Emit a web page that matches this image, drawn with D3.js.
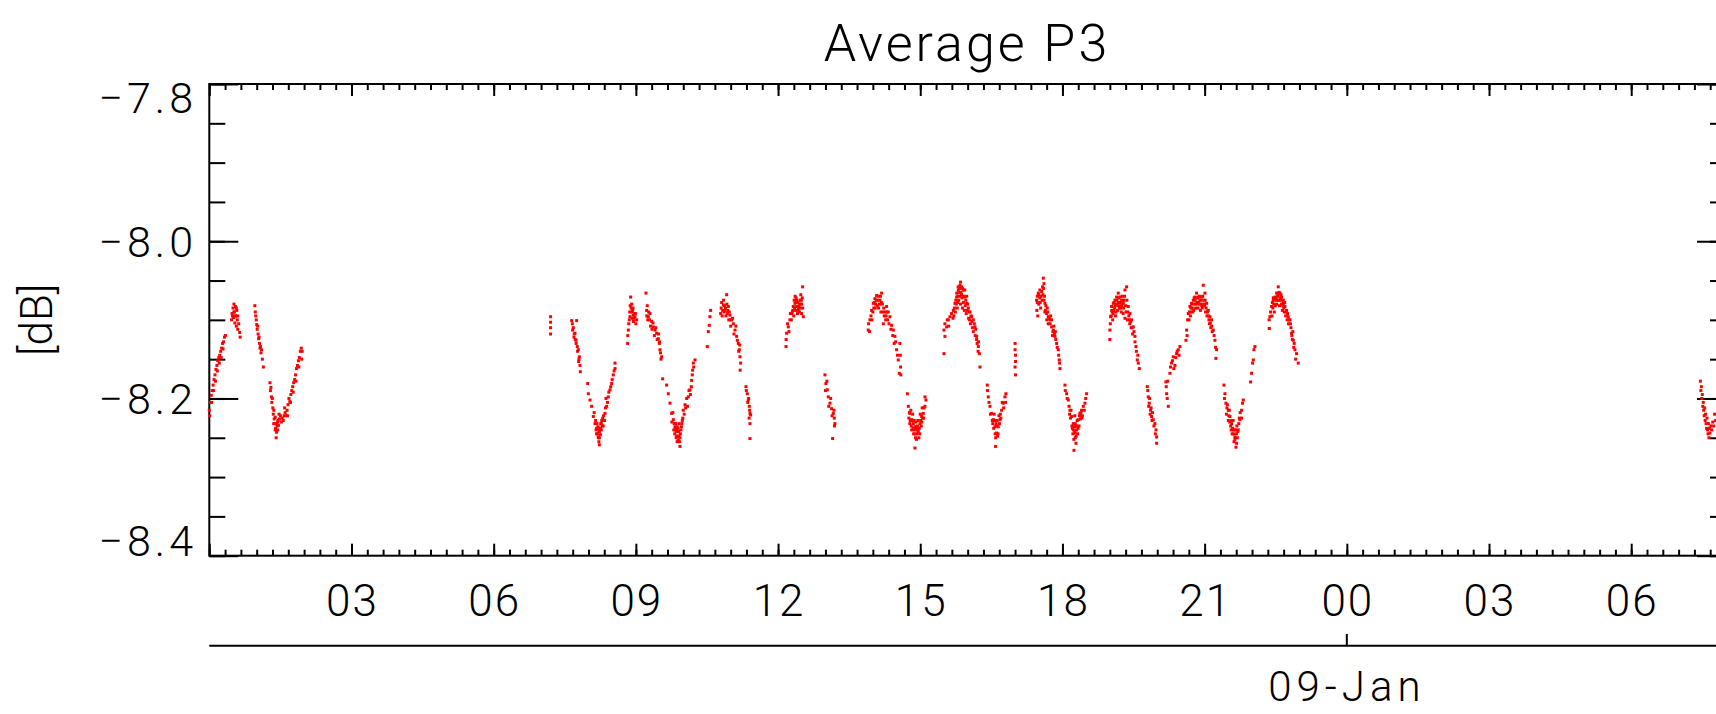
<!DOCTYPE html>
<html>
<head>
<meta charset="utf-8">
<script src="https://cdn.jsdelivr.net/npm/d3@7"></script>
<style>
  html, body { margin: 0; padding: 0; background: #fff; }
  svg { display: block; }
  text { font-family: Roboto, "DejaVu Sans", sans-serif; font-weight: 300; fill: #000; }
</style>
</head>
<body>
<svg id="chart" width="1716" height="714"></svg>
<script>
// ---------- data (hours since 08-Jan 00:00, value in dB) ----------
const title = "Average P3";
const yLabel = "[dB]";
const dateLabel = "09-Jan";
const dateLabelHour = 24;
const xDomain = [0, 32];
const yDomain = [-8.4, -7.8];
const xTickHours = [3, 6, 9, 12, 15, 18, 21, 24, 27, 30];
const xTickLabels = ["03", "06", "09", "12", "15", "18", "21", "00", "03", "06"];
const yTickValues = [-7.8, -8.0, -8.2, -8.4];
const yTickLabels = ["\u22127.8", "\u22128.0", "\u22128.2", "\u22128.4"];

const segA = [[0.00,-8.215],[0.01,-8.222],[0.02,-8.205],[0.04,-8.196],[0.05,-8.205],[0.06,-8.19],[0.08,-8.183],[0.09,-8.19],[0.10,-8.176],[0.12,-8.17],[0.13,-8.178],[0.14,-8.163],[0.16,-8.158],[0.17,-8.165],[0.18,-8.152],[0.20,-8.148],[0.21,-8.155],[0.22,-8.145],[0.24,-8.14],[0.25,-8.148],[0.26,-8.136],[0.28,-8.13],[0.29,-8.137],[0.30,-8.128],[0.32,-8.122],[0.34,-8.12],
[0.47,-8.100],[0.48,-8.092],[0.49,-8.095],[0.50,-8.085],[0.51,-8.097],[0.52,-8.080],[0.52,-8.090],[0.53,-8.090],[0.54,-8.104],[0.55,-8.083],[0.55,-8.095],[0.56,-8.095],[0.57,-8.108],[0.57,-8.085],[0.58,-8.088],[0.59,-8.100],[0.60,-8.112],[0.60,-8.095],[0.62,-8.105],[0.64,-8.116],[0.65,-8.122],
[0.96,-8.082],[0.97,-8.090],[0.98,-8.095],[0.99,-8.100],[1.00,-8.106],[1.01,-8.112],[1.02,-8.108],[1.03,-8.118],[1.04,-8.124],[1.05,-8.122],[1.06,-8.130],[1.07,-8.136],[1.08,-8.134],[1.09,-8.142],[1.10,-8.138],[1.12,-8.150],[1.14,-8.160],
[1.28,-8.180],[1.29,-8.190],[1.30,-8.186],[1.31,-8.198],[1.32,-8.205],[1.33,-8.200],[1.34,-8.212],[1.35,-8.220],[1.36,-8.215],[1.36,-8.232],[1.37,-8.226],[1.38,-8.232],[1.39,-8.224],[1.39,-8.240],[1.40,-8.238],[1.41,-8.250],[1.42,-8.243],[1.42,-8.232],[1.43,-8.235],[1.44,-8.240],[1.44,-8.230],[1.45,-8.228],[1.46,-8.234],[1.47,-8.220],[1.48,-8.226],[1.50,-8.222],
[1.52,-8.230],[1.54,-8.225],[1.56,-8.228],[1.58,-8.222],[1.59,-8.212],[1.60,-8.218],[1.62,-8.222],[1.64,-8.215],[1.65,-8.222],[1.66,-8.208],[1.68,-8.200],[1.70,-8.204],[1.71,-8.205],[1.72,-8.195],[1.74,-8.190],[1.76,-8.185],[1.77,-8.192],[1.78,-8.180],[1.80,-8.176],[1.82,-8.170],[1.83,-8.178],[1.84,-8.162],[1.86,-8.158],[1.88,-8.152],[1.89,-8.160],[1.90,-8.148],[1.92,-8.140],[1.94,-8.136],[1.95,-8.150],[1.96,-8.140]];

const segB = [[7.20,-8.096],[7.20,-8.103],[7.20,-8.110],[7.20,-8.118]];

const segC = [[7.645,-8.101],[7.660,-8.105],[7.666,-8.113],[7.680,-8.110],[7.694,-8.122],[7.700,-8.118],[7.715,-8.117],[7.720,-8.125],[7.736,-8.126],[7.740,-8.130],[7.750,-8.101],[7.764,-8.134],[7.770,-8.140],[7.786,-8.138],[7.793,-8.153],[7.800,-8.150],[7.807,-8.147],[7.821,-8.158],[7.828,-8.166],
[7.983,-8.181],[7.997,-8.194],[8.032,-8.202],[8.067,-8.210],[8.102,-8.223],[8.120,-8.218],[8.137,-8.232],[8.150,-8.228],[8.160,-8.240],[8.170,-8.245],[8.172,-8.238],[8.180,-8.232],[8.190,-8.245],[8.190,-8.238],[8.200,-8.236],[8.207,-8.249],[8.210,-8.250],[8.220,-8.242],[8.220,-8.255],[8.229,-8.259],[8.230,-8.250],[8.230,-8.242],[8.240,-8.238],[8.250,-8.246],[8.250,-8.238],[8.260,-8.232],[8.270,-8.240],[8.270,-8.232],[8.280,-8.228],[8.290,-8.235],[8.300,-8.225],[8.310,-8.235],[8.320,-8.222],[8.340,-8.228],[8.348,-8.219],[8.360,-8.212],[8.370,-8.200],[8.383,-8.210],[8.400,-8.205],[8.418,-8.198],[8.430,-8.192],[8.454,-8.189],[8.470,-8.185],[8.489,-8.181],[8.500,-8.176],[8.524,-8.170],[8.540,-8.165],[8.559,-8.155],[8.560,-8.162],
[8.826,-8.130],[8.830,-8.120],[8.840,-8.113],[8.850,-8.105],[8.860,-8.100],[8.870,-8.090],[8.875,-8.096],[8.880,-8.082],[8.889,-8.071],[8.900,-8.085],[8.910,-8.080],[8.911,-8.090],[8.920,-8.098],[8.930,-8.088],[8.940,-8.085],[8.946,-8.094],[8.950,-8.102],[8.960,-8.098],[8.970,-8.092],[8.981,-8.096],[8.990,-8.092],[9.000,-8.105],[9.016,-8.100],
[9.213,-8.066],[9.227,-8.088],[9.230,-8.095],[9.240,-8.082],[9.250,-8.100],[9.262,-8.096],[9.270,-8.090],[9.290,-8.100],[9.297,-8.092],[9.310,-8.108],[9.333,-8.102],[9.340,-8.112],[9.360,-8.104],[9.368,-8.109],[9.390,-8.120],[9.403,-8.113],[9.420,-8.110],[9.438,-8.117],[9.450,-8.125],[9.473,-8.124],[9.480,-8.118],[9.494,-8.130],[9.500,-8.128],[9.508,-8.138],[9.520,-8.142],[9.530,-8.150],[9.544,-8.147],[9.565,-8.175],
[9.649,-8.183],[9.684,-8.194],[9.720,-8.206],[9.755,-8.219],[9.760,-8.230],[9.780,-8.218],[9.790,-8.227],[9.800,-8.240],[9.810,-8.232],[9.820,-8.245],[9.825,-8.236],[9.830,-8.240],[9.840,-8.232],[9.850,-8.250],[9.850,-8.238],[9.860,-8.242],[9.860,-8.248],[9.870,-8.236],[9.870,-8.255],[9.880,-8.248],[9.890,-8.238],[9.895,-8.253],[9.900,-8.242],[9.910,-8.232],[9.910,-8.248],[9.920,-8.255],[9.930,-8.261],[9.930,-8.250],[9.940,-8.245],[9.950,-8.240],[9.960,-8.236],[9.970,-8.232],[9.980,-8.228],[9.990,-8.225],[10.000,-8.215],[10.020,-8.220],[10.036,-8.208],[10.050,-8.212],[10.071,-8.200],[10.090,-8.210],[10.106,-8.198],[10.120,-8.190],[10.141,-8.189],[10.150,-8.195],[10.170,-8.185],[10.176,-8.177],[10.190,-8.170],[10.198,-8.164],[10.212,-8.155],[10.220,-8.160],[10.247,-8.151],
[10.507,-8.134],[10.528,-8.115],[10.549,-8.107],[10.563,-8.096],[10.577,-8.088],
[10.788,-8.092],[10.800,-8.085],[10.810,-8.078],[10.820,-8.095],[10.830,-8.088],[10.844,-8.081],[10.850,-8.075],[10.860,-8.090],[10.870,-8.082],[10.880,-8.088],[10.890,-8.085],[10.900,-8.095],[10.915,-8.068],[10.920,-8.080],[10.930,-8.092],[10.940,-8.088],[10.950,-8.083],[10.960,-8.100],[10.970,-8.090],[10.985,-8.094],[10.990,-8.100],[11.000,-8.108],[11.020,-8.100],[11.040,-8.098],[11.056,-8.105],[11.070,-8.118],[11.091,-8.113],[11.110,-8.108],[11.126,-8.121],[11.140,-8.126],[11.161,-8.130],[11.170,-8.140],[11.182,-8.138],[11.190,-8.132],[11.196,-8.147],[11.210,-8.155],[11.200,-8.164],
[11.323,-8.185],[11.330,-8.190],[11.351,-8.194],[11.360,-8.205],[11.372,-8.202],[11.380,-8.200],[11.393,-8.210],[11.400,-8.215],[11.390,-8.225],[11.407,-8.219],[11.421,-8.221],[11.407,-8.232],[11.407,-8.251]];

const segD = [[12.167,-8.134],[12.170,-8.125],[12.181,-8.117],[12.200,-8.105],[12.216,-8.109],[12.230,-8.115],[12.251,-8.100],[12.260,-8.092],[12.280,-8.100],[12.286,-8.092],[12.300,-8.090],[12.310,-8.088],[12.321,-8.083],[12.330,-8.095],[12.340,-8.075],[12.350,-8.085],[12.356,-8.079],[12.360,-8.070],[12.370,-8.088],[12.380,-8.072],[12.390,-8.075],[12.392,-8.083],[12.400,-8.078],[12.410,-8.092],[12.420,-8.078],[12.427,-8.088],[12.430,-8.085],[12.440,-8.082],[12.450,-8.090],[12.460,-8.080],[12.462,-8.075],[12.470,-8.085],[12.480,-8.068],[12.490,-8.075],[12.497,-8.092],[12.500,-8.080],[12.510,-8.072],[12.518,-8.058],[12.520,-8.085],[12.532,-8.096],
[12.989,-8.170],[13.000,-8.190],[13.010,-8.181],[13.030,-8.178],[13.038,-8.189],[13.060,-8.198],[13.070,-8.210],[13.095,-8.206],[13.110,-8.200],[13.130,-8.213],[13.140,-8.222],[13.151,-8.251],[13.165,-8.219],[13.180,-8.215],[13.186,-8.225],[13.190,-8.235],[13.200,-8.232],
[13.903,-8.113],[13.910,-8.105],[13.930,-8.115],[13.939,-8.100],[13.960,-8.095],[13.974,-8.088],[13.980,-8.100],[14.000,-8.090],[14.009,-8.079],[14.020,-8.085],[14.030,-8.078],[14.044,-8.073],[14.050,-8.085],[14.060,-8.080],[14.070,-8.075],[14.079,-8.069],[14.090,-8.082],[14.100,-8.075],[14.110,-8.070],[14.120,-8.085],[14.140,-8.080],[14.150,-8.075],[14.160,-8.070],[14.170,-8.090],[14.180,-8.078],[14.185,-8.066],[14.200,-8.080],[14.210,-8.090],[14.220,-8.105],[14.230,-8.085],[14.240,-8.095],[14.260,-8.090],[14.270,-8.100],[14.280,-8.095],[14.290,-8.083],[14.300,-8.090],[14.310,-8.100],[14.325,-8.090],[14.340,-8.105],[14.360,-8.096],[14.380,-8.112],[14.396,-8.107],[14.420,-8.120],[14.431,-8.113],[14.450,-8.130],[14.466,-8.121],[14.480,-8.128],[14.501,-8.138],[14.520,-8.145],[14.536,-8.151],[14.557,-8.168],[14.570,-8.130],[14.580,-8.145],[14.585,-8.160],[14.590,-8.170],
[14.727,-8.194],[14.748,-8.210],[14.760,-8.225],[14.770,-8.218],[14.780,-8.232],[14.783,-8.219],[14.790,-8.228],[14.800,-8.215],[14.810,-8.235],[14.818,-8.227],[14.820,-8.240],[14.830,-8.228],[14.840,-8.220],[14.850,-8.238],[14.853,-8.232],[14.860,-8.245],[14.870,-8.228],[14.870,-8.240],[14.888,-8.236],[14.888,-8.263],[14.890,-8.245],[14.900,-8.250],[14.910,-8.230],[14.910,-8.238],[14.920,-8.252],[14.924,-8.240],[14.930,-8.245],[14.940,-8.235],[14.950,-8.228],[14.959,-8.242],[14.960,-8.238],[14.970,-8.250],[14.980,-8.238],[14.990,-8.245],[14.994,-8.232],[15.000,-8.220],[15.010,-8.228],[15.020,-8.235],[15.029,-8.223],[15.030,-8.230],[15.040,-8.212],[15.050,-8.225],[15.064,-8.219],[15.070,-8.225],[15.080,-8.212],[15.099,-8.210],[15.100,-8.198],[15.120,-8.202],
[15.500,-8.113],[15.500,-8.143],[15.520,-8.105],[15.521,-8.121],[15.556,-8.109],[15.570,-8.100],[15.592,-8.100],[15.600,-8.108],[15.627,-8.096],[15.660,-8.092],[15.690,-8.098],[15.697,-8.088],[15.710,-8.095],[15.720,-8.085],[15.732,-8.079],[15.740,-8.090],[15.750,-8.075],[15.760,-8.080],[15.767,-8.071],[15.770,-8.066],[15.780,-8.085],[15.790,-8.070],[15.790,-8.078],[15.800,-8.058],[15.803,-8.062],[15.810,-8.075],[15.820,-8.065],[15.830,-8.060],[15.838,-8.056],[15.840,-8.070],[15.850,-8.080],[15.850,-8.052],[15.860,-8.065],[15.870,-8.068],[15.873,-8.058],[15.880,-8.072],[15.890,-8.085],[15.890,-8.060],[15.908,-8.062],[15.910,-8.078],[15.920,-8.070],[15.930,-8.088],[15.940,-8.062],[15.943,-8.071],[15.950,-8.082],[15.960,-8.075],[15.970,-8.092],[15.978,-8.079],[15.980,-8.070],[15.990,-8.088],[16.000,-8.080],[16.014,-8.085],[16.020,-8.098],[16.030,-8.090],[16.040,-8.100],[16.049,-8.090],[16.060,-8.105],[16.070,-8.095],[16.084,-8.096],[16.090,-8.102],[16.100,-8.110],[16.119,-8.100],[16.120,-8.115],[16.140,-8.105],[16.154,-8.109],[16.160,-8.120],[16.170,-8.112],[16.189,-8.121],[16.190,-8.125],[16.200,-8.130],[16.220,-8.140],[16.225,-8.134],[16.230,-8.128],[16.246,-8.143],[16.260,-8.160]];

const segE = [[16.414,-8.183],[16.420,-8.190],[16.435,-8.198],[16.450,-8.205],[16.471,-8.210],[16.480,-8.220],[16.506,-8.219],[16.520,-8.228],[16.530,-8.232],[16.541,-8.227],[16.550,-8.238],[16.560,-8.220],[16.570,-8.228],[16.576,-8.236],[16.580,-8.245],[16.590,-8.261],[16.590,-8.250],[16.600,-8.232],[16.610,-8.235],[16.611,-8.244],[16.620,-8.228],[16.630,-8.248],[16.640,-8.245],[16.646,-8.236],[16.660,-8.222],[16.670,-8.232],[16.682,-8.227],[16.690,-8.220],[16.700,-8.225],[16.717,-8.215],[16.730,-8.205],[16.752,-8.206],[16.760,-8.212],[16.787,-8.198],[16.800,-8.205],[16.808,-8.194],
[17.000,-8.130],[17.000,-8.138],[17.010,-8.145],[17.010,-8.153],[17.000,-8.160],[17.010,-8.170],
[17.455,-8.075],[17.460,-8.088],[17.470,-8.070],[17.470,-8.078],[17.480,-8.095],[17.490,-8.066],[17.500,-8.080],[17.500,-8.068],[17.520,-8.072],[17.525,-8.062],[17.530,-8.078],[17.540,-8.085],[17.550,-8.070],[17.561,-8.064],[17.570,-8.075],[17.580,-8.058],[17.590,-8.068],[17.596,-8.047],[17.600,-8.060],[17.610,-8.054],[17.610,-8.075],[17.620,-8.070],[17.630,-8.090],[17.631,-8.079],[17.640,-8.088],[17.650,-8.082],[17.666,-8.092],[17.670,-8.100],[17.680,-8.085],[17.690,-8.090],[17.700,-8.105],[17.701,-8.096],[17.720,-8.098],[17.736,-8.100],[17.740,-8.105],[17.750,-8.095],[17.770,-8.100],[17.772,-8.109],[17.790,-8.120],[17.800,-8.115],[17.807,-8.113],[17.820,-8.108],[17.830,-8.118],[17.842,-8.121],[17.850,-8.115],[17.860,-8.125],[17.877,-8.130],[17.890,-8.135],[17.912,-8.138],[17.920,-8.145],[17.933,-8.151],[17.940,-8.155],[17.947,-8.162],
[18.053,-8.183],[18.060,-8.190],[18.088,-8.194],[18.100,-8.200],[18.123,-8.202],[18.140,-8.210],[18.150,-8.220],[18.158,-8.215],[18.170,-8.225],[18.180,-8.215],[18.193,-8.223],[18.200,-8.235],[18.210,-8.238],[18.220,-8.245],[18.229,-8.232],[18.230,-8.240],[18.240,-8.252],[18.243,-8.266],[18.250,-8.236],[18.260,-8.222],[18.260,-8.242],[18.264,-8.244],[18.270,-8.250],[18.270,-8.232],[18.280,-8.235],[18.285,-8.257],[18.290,-8.248],[18.299,-8.240],[18.300,-8.235],[18.310,-8.228],[18.320,-8.245],[18.330,-8.238],[18.334,-8.227],[18.350,-8.235],[18.360,-8.222],[18.369,-8.219],[18.380,-8.226],[18.390,-8.218],[18.404,-8.215],[18.410,-8.225],[18.420,-8.222],[18.440,-8.210],[18.460,-8.215],[18.475,-8.206],[18.490,-8.200],[18.510,-8.194],
[19.000,-8.125],[19.002,-8.113],[19.010,-8.105],[19.016,-8.096],[19.030,-8.095],[19.037,-8.083],[19.040,-8.088],[19.050,-8.090],[19.060,-8.100],[19.070,-8.092],[19.072,-8.079],[19.080,-8.088],[19.090,-8.078],[19.100,-8.085],[19.108,-8.075],[19.110,-8.082],[19.120,-8.095],[19.130,-8.090],[19.140,-8.080],[19.143,-8.071],[19.150,-8.075],[19.160,-8.088],[19.170,-8.082],[19.178,-8.066],[19.180,-8.078],[19.190,-8.072],[19.200,-8.085],[19.210,-8.078],[19.213,-8.071],[19.220,-8.082],[19.230,-8.085],[19.240,-8.090],[19.248,-8.075],[19.250,-8.082],[19.260,-8.070],[19.270,-8.078],[19.280,-8.092],[19.283,-8.079],[19.290,-8.085],[19.300,-8.075],[19.310,-8.070],[19.319,-8.062],[19.320,-8.098],[19.330,-8.082],[19.340,-8.090],[19.354,-8.058],[19.360,-8.075],[19.370,-8.100],[19.380,-8.090],[19.389,-8.083],[19.400,-8.095],[19.410,-8.100],[19.420,-8.105],[19.424,-8.092],[19.440,-8.102],[19.450,-8.110],[19.459,-8.100],[19.470,-8.110],[19.480,-8.118],[19.494,-8.109],[19.510,-8.115],[19.530,-8.121],[19.530,-8.128],[19.551,-8.134],[19.560,-8.140],[19.579,-8.151],[19.590,-8.145],[19.600,-8.155],[19.621,-8.162],
[19.790,-8.185],[19.800,-8.190],[19.811,-8.198],[19.820,-8.210],[19.832,-8.206],[19.840,-8.200],[19.850,-8.220],[19.860,-8.215],[19.870,-8.212],[19.881,-8.223],[19.890,-8.228],[19.900,-8.218],[19.916,-8.227],[19.930,-8.235],[19.951,-8.232],[19.960,-8.245],[19.973,-8.240],[19.987,-8.249],[19.987,-8.257],
[20.183,-8.179],[20.190,-8.185],[20.198,-8.194],[20.210,-8.200],[20.220,-8.178],[20.233,-8.210],[20.268,-8.168],[20.280,-8.160],[20.303,-8.155],[20.320,-8.152],[20.338,-8.147],[20.350,-8.162],[20.374,-8.158],[20.390,-8.148],[20.409,-8.143],[20.420,-8.140],[20.444,-8.138],[20.460,-8.145],[20.479,-8.134]];

const segF = [[20.605,-8.126],[20.620,-8.113],[20.630,-8.120],[20.641,-8.100],[20.655,-8.092],[20.670,-8.100],[20.680,-8.090],[20.690,-8.083],[20.700,-8.095],[20.710,-8.085],[20.720,-8.090],[20.725,-8.079],[20.730,-8.080],[20.740,-8.085],[20.750,-8.090],[20.760,-8.075],[20.770,-8.088],[20.780,-8.072],[20.790,-8.080],[20.795,-8.071],[20.800,-8.075],[20.810,-8.085],[20.820,-8.080],[20.830,-8.066],[20.840,-8.078],[20.850,-8.072],[20.860,-8.085],[20.866,-8.071],[20.870,-8.078],[20.880,-8.080],[20.890,-8.070],[20.901,-8.075],[20.910,-8.088],[20.920,-8.075],[20.930,-8.080],[20.936,-8.071],[20.940,-8.082],[20.950,-8.085],[20.960,-8.070],[20.971,-8.056],[20.980,-8.075],[20.990,-8.080],[21.000,-8.082],[21.006,-8.066],[21.010,-8.075],[21.020,-8.090],[21.030,-8.085],[21.041,-8.079],[21.050,-8.095],[21.060,-8.090],[21.077,-8.088],[21.080,-8.095],[21.090,-8.100],[21.100,-8.105],[21.112,-8.096],[21.120,-8.104],[21.130,-8.110],[21.147,-8.100],[21.150,-8.108],[21.160,-8.115],[21.182,-8.113],[21.200,-8.120],[21.217,-8.126],[21.230,-8.135],[21.238,-8.149],[21.252,-8.138],
[21.407,-8.183],[21.420,-8.200],[21.428,-8.194],[21.449,-8.206],[21.460,-8.220],[21.470,-8.212],[21.480,-8.208],[21.498,-8.215],[21.500,-8.228],[21.510,-8.222],[21.520,-8.215],[21.530,-8.230],[21.534,-8.223],[21.550,-8.235],[21.560,-8.240],[21.569,-8.232],[21.570,-8.228],[21.580,-8.245],[21.590,-8.238],[21.600,-8.228],[21.604,-8.240],[21.610,-8.245],[21.620,-8.255],[21.630,-8.240],[21.639,-8.249],[21.640,-8.252],[21.650,-8.240],[21.660,-8.262],[21.670,-8.245],[21.674,-8.257],[21.680,-8.235],[21.690,-8.250],[21.700,-8.242],[21.709,-8.240],[21.720,-8.232],[21.730,-8.225],[21.745,-8.227],[21.750,-8.218],[21.780,-8.215],[21.780,-8.225],[21.801,-8.206],[21.815,-8.202],
[21.970,-8.179],[21.990,-8.168],[22.012,-8.155],[22.026,-8.151],[22.040,-8.138],[22.061,-8.134],
[22.360,-8.100],[22.364,-8.111],[22.378,-8.096],[22.390,-8.090],[22.413,-8.083],[22.420,-8.095],[22.430,-8.078],[22.440,-8.085],[22.448,-8.075],[22.450,-8.072],[22.460,-8.080],[22.470,-8.090],[22.483,-8.071],[22.490,-8.082],[22.500,-8.075],[22.510,-8.072],[22.518,-8.066],[22.520,-8.080],[22.530,-8.075],[22.540,-8.070],[22.550,-8.068],[22.553,-8.058],[22.560,-8.075],[22.570,-8.065],[22.580,-8.082],[22.589,-8.066],[22.590,-8.075],[22.600,-8.072],[22.610,-8.068],[22.620,-8.080],[22.624,-8.071],[22.630,-8.075],[22.640,-8.088],[22.650,-8.082],[22.659,-8.079],[22.660,-8.075],[22.670,-8.085],[22.680,-8.090],[22.690,-8.078],[22.694,-8.083],[22.710,-8.095],[22.720,-8.090],[22.729,-8.088],[22.740,-8.100],[22.750,-8.092],[22.764,-8.096],[22.770,-8.105],[22.780,-8.100],[22.800,-8.100],[22.810,-8.105],[22.820,-8.110],[22.835,-8.117],[22.840,-8.120],[22.850,-8.125],[22.860,-8.115],[22.870,-8.126],[22.880,-8.135],[22.890,-8.130],[22.905,-8.138],[22.920,-8.150],[22.940,-8.143],[22.975,-8.155]];

const segG = [[31.46,-8.178],[31.47,-8.190],[31.48,-8.185],[31.49,-8.200],[31.50,-8.195],[31.51,-8.210],[31.52,-8.205],[31.53,-8.215],[31.54,-8.222],[31.55,-8.212],[31.56,-8.228],[31.57,-8.220],[31.58,-8.232],[31.59,-8.238],[31.60,-8.225],[31.61,-8.240],[31.62,-8.245],[31.63,-8.232],[31.64,-8.250],[31.65,-8.238],[31.66,-8.244],[31.68,-8.235],[31.70,-8.240],[31.72,-8.230],[31.74,-8.235],[31.76,-8.220],[31.78,-8.228]];

// ---------- layout ----------
const plotL = 209.3, plotR = 1726, plotT = 84, plotB = 555.7;
const svg = d3.select("#chart");

const x = d3.scaleLinear().domain(xDomain).range([plotL, plotR]);
const y = d3.scaleLinear().domain(yDomain).range([plotB, plotT]);

const minorX = d3.range(0, 32 * 3 + 1).map(i => i / 3);
const majorX = d3.range(0, 33, 3);
const minorY = d3.range(0, 13).map(i => -8.4 + i * 0.05);
const majorY = yTickValues;

function styleAxis(g) {
  g.select(".domain").remove();
  g.selectAll("line").attr("stroke", "#000").attr("stroke-width", 2);
  g.selectAll("text").remove();
}

// bottom frame ticks (inward)
svg.append("g").attr("transform", `translate(0,${plotB})`)
  .call(d3.axisTop(x).tickValues(minorX).tickSize(6)).call(styleAxis);
svg.append("g").attr("transform", `translate(0,${plotB})`)
  .call(d3.axisTop(x).tickValues(majorX).tickSize(12)).call(styleAxis);
// top frame ticks (inward)
svg.append("g").attr("transform", `translate(0,${plotT})`)
  .call(d3.axisBottom(x).tickValues(minorX).tickSize(6)).call(styleAxis);
svg.append("g").attr("transform", `translate(0,${plotT})`)
  .call(d3.axisBottom(x).tickValues(majorX).tickSize(12)).call(styleAxis);
// left frame ticks
svg.append("g").attr("transform", `translate(${plotL},0)`)
  .call(d3.axisRight(y).tickValues(minorY).tickSize(16)).call(styleAxis);
svg.append("g").attr("transform", `translate(${plotL},0)`)
  .call(d3.axisRight(y).tickValues(majorY).tickSize(29)).call(styleAxis);
// right frame ticks
svg.append("g").attr("transform", `translate(${plotR},0)`)
  .call(d3.axisLeft(y).tickValues(minorY).tickSize(16)).call(styleAxis);
svg.append("g").attr("transform", `translate(${plotR},0)`)
  .call(d3.axisLeft(y).tickValues(majorY).tickSize(29)).call(styleAxis);

// frame
svg.append("rect")
  .attr("x", plotL).attr("y", plotT)
  .attr("width", plotR - plotL).attr("height", plotB - plotT)
  .attr("fill", "none").attr("stroke", "#000").attr("stroke-width", 2);

// data points
const allPoints = [].concat(segA, segB, segC, segD, segE, segF, segG);
svg.append("g").selectAll("rect")
  .data(allPoints)
  .join("rect")
  .attr("x", d => x(d[0]) - 1.5)
  .attr("y", d => y(d[1]) - 1.5)
  .attr("width", 3).attr("height", 3)
  .attr("fill", "#ff0000");

// x tick labels
svg.append("g").selectAll("text")
  .data(xTickHours)
  .join("text")
  .attr("x", d => x(d) + 1)
  .attr("y", 616)
  .attr("text-anchor", "middle")
  .attr("font-size", 44)
  .attr("letter-spacing", 2)
  .text((d, i) => xTickLabels[i]);

// y tick labels
const yBaseline = v => (v === -7.8 ? y(v) + 29 : v === -8.4 ? y(v) : y(v) + 16);
svg.append("g").selectAll("text")
  .data(yTickValues)
  .join("text")
  .attr("x", 197)
  .attr("y", d => yBaseline(d))
  .attr("text-anchor", "end")
  .attr("font-size", 43)
  .attr("letter-spacing", 4)
  .text((d, i) => yTickLabels[i]);

// second (date) axis
svg.append("line")
  .attr("x1", plotL).attr("x2", plotR)
  .attr("y1", 645.7).attr("y2", 645.7)
  .attr("stroke", "#000").attr("stroke-width", 2);
svg.append("line")
  .attr("x1", x(dateLabelHour)).attr("x2", x(dateLabelHour))
  .attr("y1", 645.7).attr("y2", 634)
  .attr("stroke", "#000").attr("stroke-width", 2);
svg.append("text")
  .attr("x", x(dateLabelHour))
  .attr("y", 701)
  .attr("text-anchor", "middle")
  .attr("font-size", 42)
  .attr("letter-spacing", 5)
  .text(dateLabel);

// title
svg.append("text")
  .attr("x", 967).attr("y", 61)
  .attr("text-anchor", "middle")
  .attr("font-size", 52)
  .attr("letter-spacing", 3)
  .text(title);

// y axis label
svg.append("text")
  .attr("transform", `translate(52,${(plotT + plotB) / 2}) rotate(-90)`)
  .attr("text-anchor", "middle")
  .attr("font-size", 44)
  .text(yLabel);
</script>
</body>
</html>
